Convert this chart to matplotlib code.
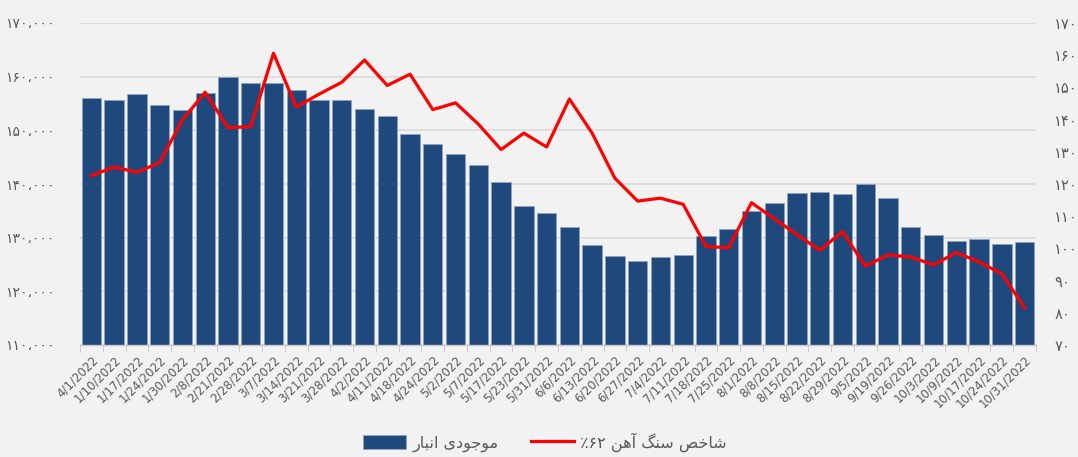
import matplotlib
matplotlib.use("Agg")
import matplotlib.pyplot as plt
import numpy as np
from matplotlib.ticker import FuncFormatter

# weekly dates (labels as shown on the chart)
dates = ["4/1/2022", "1/10/2022", "1/17/2022", "1/24/2022", "1/30/2022", "2/8/2022",
         "2/21/2022", "2/28/2022", "3/7/2022", "3/14/2022", "3/21/2022", "3/28/2022",
         "4/2/2022", "4/11/2022", "4/18/2022", "4/24/2022", "5/2/2022", "5/7/2022",
         "5/17/2022", "5/23/2022", "5/31/2022", "6/6/2022", "6/13/2022", "6/20/2022",
         "6/27/2022", "7/4/2022", "7/11/2022", "7/18/2022", "7/25/2022", "8/1/2022",
         "8/8/2022", "8/15/2022", "8/22/2022", "8/29/2022", "9/5/2022", "9/19/2022",
         "9/26/2022", "10/3/2022", "10/9/2022", "10/17/2022", "10/24/2022", "10/31/2022"]

# port inventory (left axis)
inventory = [156100, 155700, 156800, 154700, 153700, 156900, 159900, 158900, 158800, 157600,
             155600, 155600, 154000, 152700, 149300, 147500, 145500, 143500, 140400, 135900,
             134600, 132000, 128600, 126500, 125600, 126400, 126800, 130300, 131700, 134900,
             136400, 138300, 138500, 138100, 140000, 137400, 131900, 130500, 129300, 129700,
             128900, 129200]

# iron ore 62% index (right axis)
ore_index = [122.6, 125.3, 123.6, 126.7, 139.9, 148.5, 137.5, 137.8, 160.6, 143.9,
             147.9, 151.6, 158.5, 150.6, 154.1, 143.1, 145.2, 138.6, 130.7, 135.8,
             131.5, 146.4, 135.8, 121.8, 114.7, 115.6, 113.7, 100.6, 100.2, 114.2,
             109.2, 104.3, 99.4, 105.2, 94.5, 98.0, 97.3, 94.9, 98.7, 95.8,
             92.1, 81.6]

bar_label = "موجودی انبار"
line_label = "شاخص سنگ آهن"
line_pct = "٪۶۲"

FA_DIGITS = str.maketrans("0123456789", "۰۱۲۳۴۵۶۷۸۹")

# isolated, final, initial, medial (None -> letter does not join to the left)
FORMS = {
    "ا": ("\uFE8D", "\uFE8E", None, None),
    "آ": ("\uFE81", "\uFE82", None, None),
    "ب": ("\uFE8F", "\uFE90", "\uFE91", "\uFE92"),
    "ج": ("\uFE9D", "\uFE9E", "\uFE9F", "\uFEA0"),
    "خ": ("\uFEA5", "\uFEA6", "\uFEA7", "\uFEA8"),
    "د": ("\uFEA9", "\uFEAA", None, None),
    "ر": ("\uFEAD", "\uFEAE", None, None),
    "س": ("\uFEB1", "\uFEB2", "\uFEB3", "\uFEB4"),
    "ش": ("\uFEB5", "\uFEB6", "\uFEB7", "\uFEB8"),
    "ص": ("\uFEB9", "\uFEBA", "\uFEBB", "\uFEBC"),
    "م": ("\uFEE1", "\uFEE2", "\uFEE3", "\uFEE4"),
    "ن": ("\uFEE5", "\uFEE6", "\uFEE7", "\uFEE8"),
    "ه": ("\uFEE9", "\uFEEA", "\uFEEB", "\uFEEC"),
    "و": ("\uFEED", "\uFEEE", None, None),
    "ی": ("\uFBFC", "\uFBFD", "\uFBFE", "\uFBFF"),
    "گ": ("\uFB92", "\uFB93", "\uFB94", "\uFB95"),
}


def shape(text):
    # simple persian shaping + reverse, matplotlib has no bidi support
    out = []
    for i, ch in enumerate(text):
        if ch not in FORMS:
            out.append(ch)
            continue
        prev = text[i - 1] if i > 0 else ""
        nxt = text[i + 1] if i + 1 < len(text) else ""
        join_prev = prev in FORMS and FORMS[prev][2] is not None
        join_next = FORMS[ch][2] is not None and nxt in FORMS
        iso, fin, ini, med = FORMS[ch]
        if join_prev and join_next:
            out.append(med)
        elif join_prev:
            out.append(fin)
        elif join_next:
            out.append(ini)
        else:
            out.append(iso)
    return "".join(out)[::-1]


def fa_thousands(v, pos):
    return f"{int(v):,}".replace(",", "،").translate(FA_DIGITS)


def fa_plain(v, pos):
    return f"{int(round(v))}".translate(FA_DIGITS)


plt.rcParams["font.family"] = ["DejaVu Sans"]

bg = "#f2f2f2"
txt = "#595959"
fig = plt.figure(figsize=(10.78, 4.57), dpi=100, facecolor=bg)
ax = fig.add_axes([80 / 1078, 112 / 457, 956 / 1078, 322 / 457])
ax.set_facecolor(bg)
ax2 = ax.twinx()

x = np.arange(len(dates))
bars = ax.bar(x, inventory, width=0.85, color="#1f497d", edgecolor="#8ea4c0",
              linewidth=0.6, label=shape(bar_label), zorder=2)
line, = ax2.plot(x, ore_index, color="#ff0000", lw=2.3,
                 label=line_pct + " " + shape(line_label), zorder=3)

ax.set_xlim(-0.5, len(dates) - 0.5)
ax.set_ylim(110000, 170000)
ax.set_yticks(np.arange(110000, 170001, 10000))
ax.yaxis.set_major_formatter(FuncFormatter(fa_thousands))
ax2.set_ylim(70, 170)
ax2.set_yticks(np.arange(70, 171, 10))
ax2.yaxis.set_major_formatter(FuncFormatter(fa_plain))

ax.grid(axis="y", color="#d9d9d9", lw=1.1, zorder=0)
ax.set_axisbelow(True)

for a in (ax, ax2):
    for s in ("top", "left", "right"):
        a.spines[s].set_visible(False)
ax2.spines["bottom"].set_visible(False)
ax.spines["bottom"].set_color("#c8c8c8")
ax.spines["bottom"].set_linewidth(1.0)

ax.set_xticks(x)
ax.set_xticklabels(dates, rotation=45, ha="right", rotation_mode="anchor",
                   fontsize=8.5, color=txt)
ax.set_xticks(np.arange(-0.5, len(dates)), minor=True)
ax.tick_params(axis="x", which="major", length=0, pad=6)
ax.tick_params(axis="x", which="minor", length=5, color="#c8c8c8")
ax.tick_params(axis="y", length=0, labelsize=10, labelcolor=txt, pad=18)
ax2.tick_params(axis="y", length=0, labelsize=10.5, labelcolor=txt, pad=13)

fig.legend(handles=[bars, line], loc="center", bbox_to_anchor=(545 / 1078, 1 - 442 / 457),
           ncol=2, frameon=False, fontsize=11.5, labelcolor=txt, handlelength=2.7,
           handleheight=0.9, columnspacing=2.0, handletextpad=0.4)

fig.savefig("out.png", dpi=100, facecolor=bg)
